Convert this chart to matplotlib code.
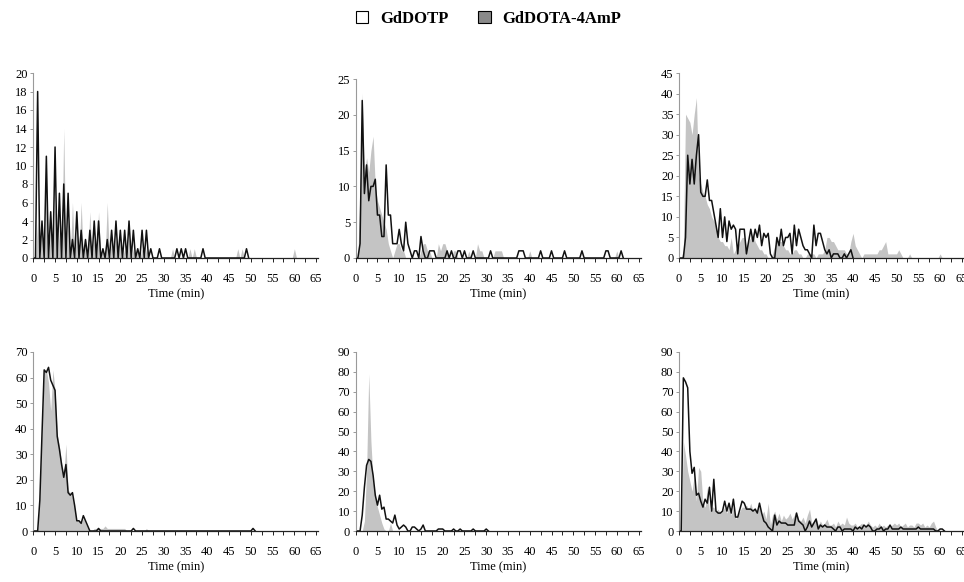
import numpy as np
import matplotlib.pyplot as plt
from matplotlib.patches import Patch

plt.rcParams['font.family'] = 'Liberation Serif'

STEP = 0.5  # minutes between samples

# each row of ten values covers 5 minutes
dotp_1 = [0, 0, 18, 0, 4, 0, 11, 0, 5, 0,
          12, 0, 7, 0, 8, 0, 7, 0, 2, 0,
          5, 0, 3, 0, 2, 0, 3, 0, 4, 0,
          4, 0, 1, 0, 2, 0, 3, 0, 4, 0,
          3, 0, 3, 0, 4, 0, 3, 0, 1, 0,
          3, 0, 3, 0, 1, 0, 0, 0, 1, 0,
          0, 0, 0, 0, 0, 0, 1, 0, 1, 0,
          1, 0, 0, 0, 0, 0, 0, 0, 1, 0,
          0, 0, 0, 0, 0, 0, 0, 0, 0, 0,
          0, 0, 0, 0, 0, 0, 0, 0, 1, 0]
amp_1 = [0, 0, 4, 0, 3, 0, 8, 0, 3, 0,
         6, 0, 3, 0, 14, 0, 4, 0, 6, 0,
         3, 0, 6, 0, 2, 0, 5, 0, 2, 0,
         5, 0, 1, 0, 6, 0, 2, 0, 2, 0,
         2, 0, 1, 0, 2, 0, 1, 0, 1, 0,
         1, 0, 1, 0, 0, 0, 0, 0, 0, 0,
         0, 0, 0, 0, 1, 0, 0, 0, 0, 0,
         0, 0, 1, 0, 1, 0, 0, 0, 0, 0,
         0, 0, 0, 0, 0, 0, 0, 0, 0, 0,
         0, 0, 0, 0, 1, 0, 1, 0, 0, 0,
         0, 0, 0, 0, 0, 0, 0, 0, 0, 0,
         0, 0, 0, 0, 0, 0, 0, 0, 0, 0,
         1, 0]

dotp_2 = [0, 0, 2, 22, 9, 13, 8, 10, 10, 11,
          6, 6, 3, 3, 13, 6, 6, 2, 2, 2,
          4, 2, 1, 5, 2, 1, 0, 1, 1, 0,
          3, 1, 0, 0, 1, 1, 1, 0, 0, 0,
          0, 0, 1, 0, 1, 0, 0, 1, 1, 0,
          1, 0, 0, 0, 1, 0, 0, 0, 0, 0,
          0, 0, 1, 0, 0, 0, 0, 0, 0, 0,
          0, 0, 0, 0, 0, 1, 1, 1, 0, 0,
          0, 0, 0, 0, 0, 1, 0, 0, 0, 0,
          1, 0, 0, 0, 0, 0, 1, 0, 0, 0,
          0, 0, 0, 0, 1, 0, 0, 0, 0, 0,
          0, 0, 0, 0, 0, 1, 1, 0, 0, 0,
          0, 0, 1, 0]
amp_2 = [0, 0, 10, 23, 12, 14, 12, 15, 17, 10,
         8, 7, 6, 5, 4, 2, 1, 0, 1, 2,
         2, 1, 1, 0, 0, 0, 0, 0, 0, 0,
         1, 2, 2, 1, 1, 0, 0, 0, 2, 1,
         2, 2, 1, 0, 0, 1, 1, 0, 0, 0,
         0, 0, 1, 0, 0, 0, 2, 1, 1, 0,
         0, 0, 0, 0, 1, 1, 1, 1, 0, 0,
         0, 0, 0, 0, 0, 0, 0, 0, 0, 0,
         1, 0, 0, 0, 0, 0, 0, 0, 0, 0,
         0, 0, 0, 0, 0, 0, 0, 0, 0, 0,
         0, 0, 0, 0, 0, 0, 0, 0, 0, 0,
         0, 0, 0, 0, 0, 0, 0, 0, 0, 0,
         1, 0]

dotp_3 = [0, 0, 0, 5, 25, 18, 24, 18, 25, 30,
          16, 15, 15, 19, 14, 14, 11, 8, 5, 12,
          5, 10, 4, 9, 7, 8, 7, 1, 7, 7,
          7, 1, 4, 7, 4, 7, 5, 8, 3, 6,
          5, 6, 1, 0, 0, 5, 3, 7, 3, 5,
          5, 6, 1, 8, 3, 7, 5, 3, 2, 2,
          1, 0, 8, 3, 6, 6, 4, 2, 1, 2,
          0, 1, 1, 1, 0, 0, 1, 0, 1, 2,
          0]
amp_3 = [0, 0, 2, 35, 34, 33, 30, 35, 39, 20,
         18, 16, 15, 13, 12, 10, 9, 8, 5, 4,
         4, 3, 3, 2, 5, 1, 2, 3, 4, 5,
         5, 3, 4, 5, 6, 4, 3, 2, 2, 1,
         1, 0, 0, 1, 3, 4, 4, 4, 3, 2,
         2, 1, 1, 2, 2, 1, 1, 0, 0, 1,
         1, 1, 1, 0, 1, 1, 1, 2, 5, 5,
         4, 4, 3, 2, 2, 2, 2, 1, 1, 4,
         6, 3, 2, 1, 0, 1, 1, 1, 1, 1,
         1, 1, 2, 2, 3, 4, 1, 1, 1, 1,
         1, 2, 1, 0, 0, 0, 1, 0, 0, 0,
         0, 0, 0, 0, 0, 0, 0, 0, 0, 0,
         1, 0]

dotp_4 = [0, 0, 0, 12, 38, 63, 62, 64, 59, 57,
          55, 37, 32, 26, 21, 26, 15, 14, 15, 10,
          4, 4, 3, 6, 4, 2, 0, 0, 0, 0,
          1, 0, 0, 0, 0, 0, 0, 0, 0, 0,
          0, 0, 0, 0, 0, 0, 1, 0, 0, 0,
          0, 0, 0, 0, 0, 0, 0, 0, 0, 0,
          0, 0, 0, 0, 0, 0, 0, 0, 0, 0,
          0, 0, 0, 0, 0, 0, 0, 0, 0, 0,
          0, 0, 0, 0, 0, 0, 0, 0, 0, 0,
          0, 0, 0, 0, 0, 0, 0, 0, 0, 0,
          0, 1, 0]
amp_4 = [0, 0, 0, 15, 40, 62, 63, 58, 47, 63,
         55, 38, 33, 27, 22, 34, 16, 15, 13, 9,
         4, 4, 3, 5, 3, 1, 0, 0, 1, 1,
         1, 1, 1, 2, 1, 1, 1, 1, 1, 1,
         1, 1, 1, 0, 0, 0, 0, 0, 0, 0,
         0, 0, 1, 0]

dotp_5 = [0, 0, 0, 8, 22, 33, 36, 35, 28, 18,
          13, 18, 11, 12, 6, 6, 5, 4, 8, 3,
          1, 2, 3, 2, 0, 0, 2, 2, 1, 0,
          1, 3, 0, 0, 0, 0, 0, 0, 1, 1,
          1, 0, 0, 0, 0, 1, 0, 0, 1, 0,
          0, 0, 0, 0, 1, 0, 0, 0, 0, 0,
          1, 0]
amp_5 = [0, 0, 0, 0, 5, 30, 79, 45, 25, 18,
         12, 8, 4, 1, 0, 0, 4, 0]

dotp_6 = [0, 0, 77, 75, 72, 40, 29, 32, 18, 19,
          15, 12, 16, 14, 22, 10, 26, 10, 9, 9,
          10, 15, 10, 14, 9, 16, 7, 7, 11, 15,
          14, 11, 11, 11, 10, 11, 9, 14, 9, 5,
          4, 2, 1, 0, 8, 3, 5, 4, 4, 4,
          3, 3, 3, 3, 9, 5, 4, 3, 0, 2,
          5, 2, 4, 6, 1, 3, 2, 3, 2, 2,
          2, 1, 0, 2, 2, 0, 1, 1, 1, 1,
          0, 2, 1, 2, 1, 3, 2, 3, 2, 0,
          0, 1, 1, 2, 0, 1, 1, 3, 1, 1,
          1, 1, 2, 1, 1, 1, 1, 1, 1, 1,
          2, 1, 1, 1, 1, 1, 1, 1, 0, 0,
          1, 1, 0]
amp_6 = [0, 0, 45, 38, 30, 25, 20, 28, 15, 32,
         30, 14, 12, 22, 10, 12, 12, 10, 11, 9,
         10, 12, 9, 13, 8, 12, 6, 8, 10, 12,
         12, 13, 11, 14, 10, 12, 9, 13, 8, 10,
         6, 14, 3, 8, 10, 6, 9, 5, 8, 6,
         7, 9, 6, 8, 10, 6, 5, 7, 4, 8,
         11, 4, 5, 7, 3, 5, 3, 4, 6, 3,
         3, 4, 2, 5, 3, 4, 3, 7, 4, 3,
         3, 4, 2, 3, 4, 2, 3, 5, 3, 2,
         3, 2, 4, 2, 3, 2, 3, 2, 3, 4,
         3, 4, 2, 3, 4, 2, 3, 3, 2, 4,
         4, 3, 4, 2, 3, 2, 4, 5, 2, 0]

y_max = [20, 25, 45, 70, 90, 90]
y_step = [2, 5, 5, 10, 10, 10]
dotp_all = [dotp_1, dotp_2, dotp_3, dotp_4, dotp_5, dotp_6]
amp_all = [amp_1, amp_2, amp_3, amp_4, amp_5, amp_6]

# axes boxes in pixels: left, bottom (y of zero), top (y of max)
W, H = 964, 582
boxes = [(33.3, 258, 73), (355.7, 258, 79), (679, 258, 73),
         (33.3, 531, 352), (355.7, 531, 352), (679, 531, 352)]
AX_W = 285

fig = plt.figure(figsize=(9.64, 5.82), dpi=100)

for i in range(6):
    left, bot, top = boxes[i]
    ax = fig.add_axes([left / W, (H - bot) / H, AX_W / W, (bot - top) / H])

    t_dotp = np.arange(len(dotp_all[i])) * STEP
    t_amp = np.arange(len(amp_all[i])) * STEP
    ax.fill_between(t_amp, amp_all[i], 0, color='#c4c4c4', lw=0)
    ax.plot(t_dotp, dotp_all[i], color='#111111', lw=1.1)

    ax.set_xlim(0, 65.5)
    ax.set_ylim(0, y_max[i])
    ax.set_xticks(np.arange(0, 66, 5))
    ax.set_xticks(np.arange(2.5, 66, 5), minor=True)
    ax.set_yticks(np.arange(0, y_max[i] + 1, y_step[i]))
    ax.set_xlabel('Time (min)', fontsize=9, labelpad=2.5)

    for s in ['top', 'right']:
        ax.spines[s].set_visible(False)
    ax.spines['left'].set_color('#9a9a9a')
    ax.spines['left'].set_linewidth(0.8)
    ax.spines['bottom'].set_color('#222222')
    ax.spines['bottom'].set_linewidth(0.9)

    ax.tick_params(axis='x', which='both', direction='out', length=3,
                   width=0.7, color='#222222', labelsize=9, pad=8)
    ax.tick_params(axis='y', direction='out', length=2.5, width=0.7,
                   color='#9a9a9a', labelsize=9, pad=1.5)

handles = [Patch(facecolor='white', edgecolor='black', lw=0.8),
           Patch(facecolor='#8a8a8a', edgecolor='black', lw=0.8)]
fig.legend(handles, ['GdDOTP', 'GdDOTA-4AmP'], loc='center',
           bbox_to_anchor=(0.507, 0.968), ncol=2, frameon=False,
           prop={'weight': 'bold', 'size': 12}, handlelength=0.75,
           handleheight=0.75, handletextpad=0.7, columnspacing=1.8)

fig.savefig('out.png', dpi=100)
